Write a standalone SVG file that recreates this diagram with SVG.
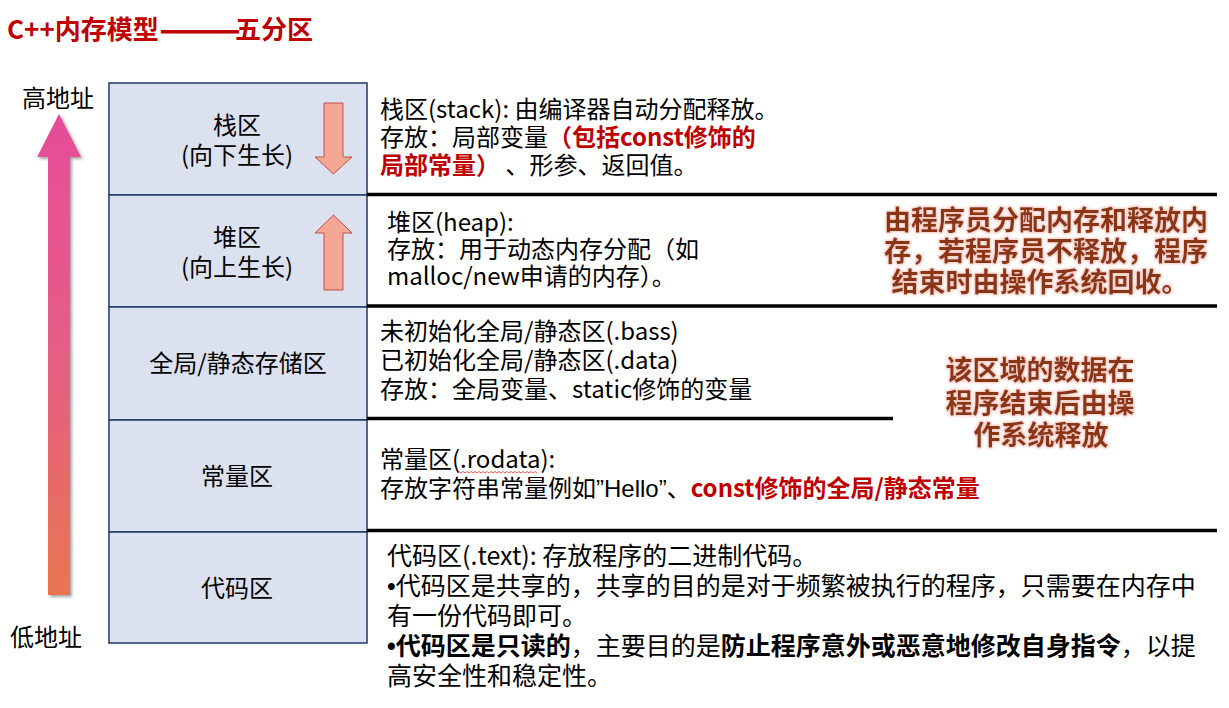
<svg xmlns="http://www.w3.org/2000/svg" width="1229" height="708" viewBox="0 0 1229 708">
<defs>
<linearGradient id="axisGrad" x1="0" y1="0" x2="0" y2="1">
<stop offset="0" stop-color="#E64C98"/>
<stop offset="0.5" stop-color="#E55E85"/>
<stop offset="1" stop-color="#E97550"/>
</linearGradient>
<filter id="shadow" x="-50%" y="-10%" width="200%" height="120%">
<feDropShadow dx="2" dy="2" stdDeviation="1.5" flood-color="#000" flood-opacity="0.35"/>
</filter>
<filter id="glow" x="-10%" y="-20%" width="120%" height="140%">
<feMorphology in="SourceAlpha" operator="dilate" radius="1" result="d"/>
<feGaussianBlur in="d" stdDeviation="0.8" result="b"/>
<feFlood flood-color="#F2B8AC" flood-opacity="0.8"/>
<feComposite in2="b" operator="in" result="g"/>
<feMerge><feMergeNode in="g"/><feMergeNode in="SourceGraphic"/></feMerge>
</filter>
</defs>
<style>
text{font-family:"Noto Sans CJK SC","Noto Sans",sans-serif;fill:#000;}
.title{font-size:26px;font-weight:bold;fill:#C00000;}
.dash{stroke:#C00000;stroke-width:1;}
.addr{font-size:24px;text-anchor:middle;}
.box{fill:#DCE1F0;stroke:#203864;stroke-width:1.5;}
.lbl{font-size:24px;text-anchor:middle;}
.desc{font-size:24px;}
.code{font-size:25px;}
.red{fill:#C00000;font-weight:bold;}
.b{font-weight:bold;}
.note{font-size:27px;font-weight:bold;fill:#8A3412;text-anchor:middle;}
.sep{stroke:#000;stroke-width:3.5;fill:none;}
.grow{fill:#F4A792;stroke:#C0504D;stroke-width:1;}
.lat{font-family:"Liberation Sans",sans-serif;}
</style>
<rect width="1229" height="708" fill="#fff"/>
<g id="title"><text class="title" x="7" y="39">C++内存模型<tspan class="dash" x="160" textLength="80" lengthAdjust="spacingAndGlyphs">———</tspan><tspan x="235">五分区</tspan></text></g>
<g id="address-axis">
<polygon points="59,114 81,157 70,157 70,595 48,595 48,157 37,157" fill="url(#axisGrad)" filter="url(#shadow)"/>
<text class="addr" x="58" y="107">高地址</text>
<text class="addr" x="46" y="646">低地址</text>
</g>
<g id="stack">
<rect class="box" x="109" y="83" width="258" height="112"/>
<text class="lbl" x="237" y="134">栈区</text>
<text class="lbl" x="237" y="164">(向下生长)</text>
<polygon class="grow" points="324,103 343,103 343,157 352,157 333.5,174 315,157 324,157"/>
</g>
<g id="heap">
<rect class="box" x="109" y="195" width="258" height="112"/>
<text class="lbl" x="237" y="246">堆区</text>
<text class="lbl" x="237" y="276">(向上生长)</text>
<polygon class="grow" points="333.5,215 352,233 343,233 343,290 324,290 324,233 315,233"/>
</g>
<g id="global-static">
<rect class="box" x="109" y="307" width="258" height="113"/>
<text class="lbl" x="238" y="372">全局/静态存储区</text>
</g>
<g id="constant">
<rect class="box" x="109" y="420" width="258" height="112"/>
<text class="lbl" x="237" y="485">常量区</text>
</g>
<g id="code">
<rect class="box" x="109" y="532" width="258" height="111"/>
<text class="lbl" x="237" y="597">代码区</text>
</g>
<g id="connectors">
<line class="sep" x1="367" y1="194.5" x2="1217" y2="194.5"/>
<line class="sep" x1="367" y1="306" x2="1217" y2="306"/>
<line class="sep" x1="367" y1="418.5" x2="893" y2="418.5"/>
<line class="sep" x1="367" y1="530.5" x2="1217" y2="530.5"/>
</g>
<g id="stack-desc">
<text class="desc" x="380" y="118">栈区(stack): 由编译器自动分配释放。</text>
<text class="desc" x="380" y="146">存放：局部变量<tspan class="red">（包括const修饰的</tspan></text>
<text class="desc" x="380" y="174"><tspan class="red">局部常量）</tspan> 、形参、返回值。</text>
</g>
<g id="heap-desc">
<text class="desc" x="387" y="231">堆区(heap):</text>
<text class="desc" x="387" y="258">存放：用于动态内存分配（如</text>
<text class="desc" x="387" y="285">malloc/new申请的内存）。</text>
</g>
<g id="heap-note" filter="url(#glow)">
<text class="note" x="1046" y="230">由程序员分配内存和释放内</text>
<text class="note" x="1046" y="261">存，若程序员不释放，程序</text>
<text class="note" x="1040" y="292">结束时由操作系统回收。</text>
</g>
<g id="global-desc">
<text class="desc" x="380" y="340">未初始化全局/静态区(.bass)</text>
<text class="desc" x="380" y="369">已初始化全局/静态区(.data)</text>
<text class="desc" x="380" y="398">存放：全局变量、static修饰的变量</text>
</g>
<g id="global-note" filter="url(#glow)">
<text class="note" x="1040" y="380">该区域的数据在</text>
<text class="note" x="1040" y="413">程序结束后由操</text>
<text class="note" x="1041" y="445">作系统释放</text>
</g>
<g id="constant-desc">
<text class="desc" x="380" y="468">常量区(.rodata):</text>
<path d="M457 473 l2 -1.5 l2 1.5 l2 -1.5 l2 1.5 l2 -1.5 l2 1.5 l2 -1.5 l2 1.5 l2 -1.5 l2 1.5 l2 -1.5 l2 1.5 l2 -1.5 l2 1.5 l2 -1.5 l2 1.5 l2 -1.5 l2 1.5 l2 -1.5 l2 1.5 l2 -1.5 l2 1.5 l2 -1.5 l2 1.5 l2 -1.5 l2 1.5 l2 -1.5 l2 1.5 l2 -1.5 l2 1.5 l2 -1.5 l2 1.5 l2 -1.5 l2 1.5 l2 -1.5 l2 1.5 l2 -1.5 l2 1.5 l2 -1.5 l2 1.5" fill="none" stroke="#E03030" stroke-width="0.8"/>
<text class="desc" x="380" y="497">存放字符串常量例如<tspan class="lat">”Hello”</tspan>、<tspan class="red">const修饰的全局/静态常量</tspan></text>
</g>
<g id="code-desc">
<text class="code" x="387" y="565">代码区(.text): 存放程序的二进制代码。</text>
<text class="code" x="387" y="595"><tspan class="lat">•</tspan>代码区是共享的，共享的目的是对于频繁被执行的程序，只需要在内存中</text>
<text class="code" x="387" y="625">有一份代码即可。</text>
<text class="code" x="387" y="655"><tspan class="b"><tspan class="lat">•</tspan>代码区是只读的</tspan>，主要目的是<tspan class="b">防止程序意外或恶意地修改自身指令</tspan>，以提</text>
<text class="code" x="387" y="685">高安全性和稳定性。</text>
</g>
</svg>
